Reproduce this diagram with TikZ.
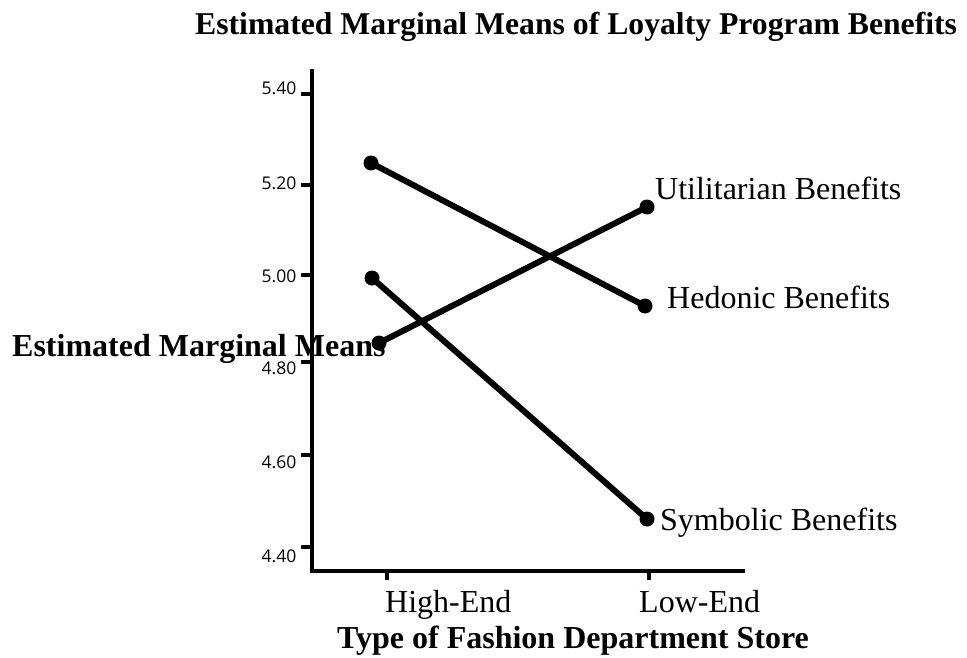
\documentclass[tikz,border=0pt]{standalone}
\usepackage{fontspec}
\setmainfont{Liberation Serif}
\newfontfamily\tickfont{Open Sans}
\begin{document}
\begin{tikzpicture}[x=1pt,y=-1pt,
  dot/.style={circle,fill=black,inner sep=0pt,minimum size=15pt},
  series/.style={line width=6pt},
  axisline/.style={line width=4pt},
  tickmark/.style={line width=3.5pt},
  ticklabel/.style={anchor=east,inner sep=0pt,font=\tickfont\fontsize{17.5}{20}\selectfont},
  lbl/.style={anchor=base west,inner sep=0pt,font=\fontsize{32}{36}\selectfont},
  blbl/.style={anchor=base west,inner sep=0pt,font=\bfseries\fontsize{32}{36}\selectfont}]
\useasboundingbox (0,0) rectangle (967,658);
% axes
\coordinate (ytop) at (312,69);
\coordinate (origin) at (312,571);
\coordinate (xend) at (745,571);
\draw[axisline] (ytop) -- (origin) -- (xend);
% y ticks
\foreach \i/\y/\ly/\t in {1/94/88/5.40,2/185/183/5.20,3/275/276/5.00,4/362/368/4.80,5/455/462/4.60,6/547/556/4.40}{
  \coordinate (yt\i) at (312,\y);
  \coordinate (ytl\i) at (301,\y);
  \draw[tickmark] (ytl\i) -- (yt\i);
  \node[ticklabel] (lab\i) at (296.5,\ly) {\t};
}
% x ticks
\coordinate (xh) at (387,571);
\coordinate (xhb) at (387,580);
\coordinate (xl) at (649,571);
\coordinate (xlb) at (649,580);
\draw[tickmark] (xh) -- (xhb);
\draw[tickmark] (xl) -- (xlb);
% data
\coordinate (hH) at (371,163);
\coordinate (hL) at (645,306);
\coordinate (uH) at (379,343);
\coordinate (uL) at (647,207);
\coordinate (sH) at (372,278);
\coordinate (sL) at (647,519);
\draw[series] (hH) -- (hL);
\draw[series] (uH) -- (uL);
\draw[series] (sH) -- (sL);
\foreach \p in {hH,hL,uH,uL,sH,sL}{\node[dot] (d\p) at (\p) {};}
% labels
\node[lbl] (ulab) at (655,200) {Utilitarian Benefits};
\node[lbl] (hlab) at (667,308) {Hedonic Benefits};
\node[lbl] (slab) at (660,530) {Symbolic Benefits};
\node[lbl] (high) at (385,612) {High-End};
\node[lbl] (low) at (639,612) {Low-End};
\node[blbl] (xtitle) at (337,648) {Type of Fashion Department Store};
\node[blbl] (ytitle) at (12,356) {Estimated Marginal Means};
\node[blbl,font=\bfseries\fontsize{31.7}{36}\selectfont] (title) at (195,35) {Estimated Marginal Means of Loyalty Program Benefits};
\end{tikzpicture}
\end{document}
